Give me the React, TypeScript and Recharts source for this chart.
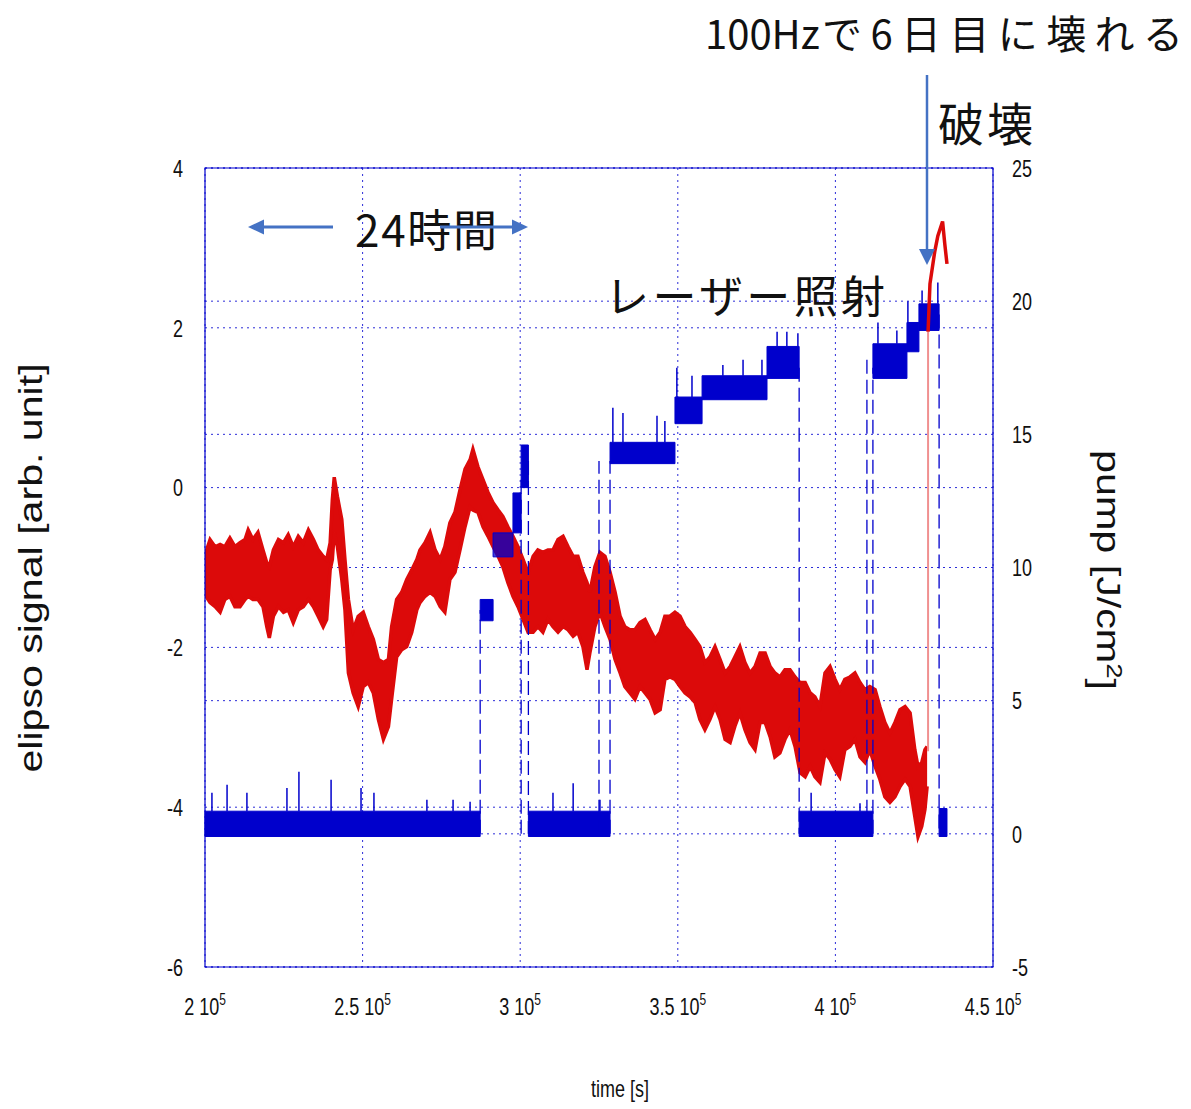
import React from 'react';
import {
  ComposedChart,
  Area,
  Line,
  XAxis,
  YAxis,
  CartesianGrid,
  ReferenceArea,
  ReferenceLine,
} from 'recharts';

const W = 1191;
const H = 1109;

// elipso signal (left axis) - noisy band, read as lower / upper envelope
const sigTime = [
  200000, 201600, 203200, 204800, 206300, 207900, 209500, 211100, 212700, 213700,
  215200, 216800, 218400, 219600, 220400, 221700, 223300, 224900, 226400, 228000,
  229600, 231200, 232800, 234400, 235900, 237500, 238600, 239700, 240400, 241000,
  242000, 243400, 244400, 245500, 247000, 248600, 250200, 251800, 253400, 255000,
  256600, 258200, 259200, 260800, 262400, 264000, 265600, 267200,
  268200, 269800, 271400, 273000, 274600, 276100, 277700, 279300, 280900, 282500,
  284100, 285000, 286600, 288200, 289800, 291400, 293000, 294500, 296100, 297700,
  299300, 300900, 302500, 304100, 305600, 307200, 308800, 310400, 312000, 313600,
  315200, 316800, 318300, 319900, 321200, 322100, 323700, 325300, 326900, 328500,
  330100, 331700, 333200, 334800, 336400,
  338000, 339600, 341200, 342800, 344400, 345900, 347500, 349100, 350700, 352300,
  353900, 355500, 357000, 358600, 360200, 361800, 363400, 365000, 366600, 368100,
  369700, 371300, 372900, 374500, 376100, 377700, 379300, 380800, 382400, 384000,
  385600, 387200, 388800, 390400, 392000, 393500, 395100, 396700, 398300, 399900,
  401400, 403000, 404600, 406200, 407800, 409400, 410900, 412600, 414100, 415700,
  417300, 418900, 420500, 422100, 423700, 425200, 426200, 427400, 428400, 429100,
];
const sigHigh = [
  -0.84, -0.65, -0.74, -0.71, -0.74, -0.63, -0.74, -0.69, -0.65, -0.53,
  -0.65, -0.56, -0.78, -0.94, -0.99, -0.78, -0.65, -0.69, -0.59, -0.74,
  -0.61, -0.69, -0.53, -0.65, -0.78, -0.86, -0.9, -0.69, -0.15, 0.13,
  -0.11, -0.4, -0.9, -1.4, -1.78, -1.61, -1.56, -1.74, -1.9, -2.15,
  -2.19, -2.15, -1.74, -1.4, -1.31, -1.15, -1.03, -0.9,
  -0.78, -0.69, -0.56, -0.78, -0.9, -0.74, -0.44, -0.31, -0.03, 0.23,
  0.35, 0.48, 0.26, 0.1, -0.06, -0.19, -0.28, -0.36, -0.49, -0.61,
  -0.74, -0.9, -1.06, -0.86, -0.78, -0.81, -0.78, -0.78, -0.65, -0.61,
  -0.74, -0.86, -0.86, -1.06, -1.19, -1.31, -0.99, -0.81, -0.86, -1.06,
  -1.31, -1.61, -1.74, -1.78, -1.78,
  -1.69, -1.65, -1.78, -1.9, -1.81, -1.61, -1.61, -1.56, -1.61, -1.74,
  -1.81, -1.9, -1.99, -2.19, -2.12, -1.99, -2.15, -2.32, -2.24, -2.12,
  -1.99, -2.19, -2.32, -2.24, -2.07, -2.07, -2.24, -2.32, -2.37, -2.28,
  -2.28, -2.37, -2.44, -2.44, -2.57, -2.62, -2.74, -2.32, -2.24, -2.4,
  -2.53, -2.4, -2.37, -2.32, -2.44, -2.53, -2.49, -2.53, -2.74, -2.94,
  -3.07, -2.94, -2.78, -2.74, -2.82, -3.28, -3.49, -3.44, -3.28, -3.24,
];
const sigLow = [
  -1.34, -1.44, -1.49, -1.56, -1.4, -1.36, -1.49, -1.49, -1.4, -1.36,
  -1.4, -1.4, -1.49, -1.74, -1.88, -1.61, -1.49, -1.56, -1.53, -1.69,
  -1.53, -1.49, -1.4, -1.49, -1.61, -1.74, -1.65, -1.03, -0.9, -0.56,
  -0.74, -1.15, -1.53, -2.32, -2.57, -2.74, -2.49, -2.44, -2.57, -2.9,
  -3.15, -2.99, -2.65, -2.12, -2.03, -1.99, -1.81, -1.53,
  -1.44, -1.36, -1.31, -1.36, -1.49, -1.56, -1.15, -1.06, -0.78, -0.49,
  -0.24, -0.28, -0.31, -0.49, -0.61, -0.74, -0.86, -0.99, -1.19, -1.36,
  -1.49, -1.65, -1.81, -1.81, -1.74, -1.81, -1.65, -1.74, -1.81, -1.74,
  -1.78, -1.86, -1.81, -1.99, -2.28, -2.07, -1.74, -1.56, -1.74, -1.9,
  -2.15, -2.32, -2.49, -2.57, -2.65,
  -2.49, -2.57, -2.65, -2.82, -2.78, -2.4, -2.37, -2.4, -2.49, -2.57,
  -2.62, -2.69, -2.9, -3.03, -2.9, -2.74, -2.9, -3.15, -3.19, -2.99,
  -2.82, -3.03, -3.19, -3.28, -2.94, -2.94, -3.12, -3.37, -3.32, -3.15,
  -3.03, -3.24, -3.57, -3.62, -3.49, -3.62, -3.69, -3.32, -3.4, -3.53,
  -3.62, -3.28, -3.24, -3.15, -3.37, -3.44, -3.28, -3.49, -3.65, -3.87,
  -3.94, -3.87, -3.74, -3.65, -3.74, -4.12, -4.37, -4.24, -4.03, -3.74,
];

// jump at the breakdown, then the thin trace on top
const jumpTime = [429400, 429400];
const jumpValue = [-3.3, 1.95];
const tailTime = [429400, 430000, 431500, 432500, 434000, 434700, 435400];
const tailValue = [1.95, 2.55, 2.95, 3.15, 3.33, 3.05, 2.8];

// pump plateaus (right axis)
const pumpStart = [200000, 287300, 291400, 297700, 300300, 302600, 328500, 349100, 357700, 378300, 388500, 411900, 422700, 426500, 432900];
const pumpEnd = [287300, 291400, 297700, 300300, 302600, 328500, 349100, 357700, 378300, 388500, 411900, 422700, 426500, 432900, 435400];
const pumpLow = [-0.1, 8.0, 10.4, 11.3, 13.0, -0.1, 13.9, 15.4, 16.3, 17.1, -0.1, 17.1, 18.1, 18.9, -0.1];
const pumpHigh = [0.85, 8.8, 11.3, 12.8, 14.6, 0.85, 14.7, 16.4, 17.2, 18.3, 0.85, 18.4, 19.2, 19.9, 0.95];

// largest spikes above the plateaus
const spikeTime = [
  202200, 207000, 213300, 226000, 229800, 240000, 249500, 253600, 270400, 278700, 284100,
  310400, 316800, 325300, 329400, 332600, 343400, 345900, 349700, 354500, 364300, 370700,
  376700, 381500, 384600, 388100, 392300, 407800, 413500, 419500, 423000, 427500, 432500,
];
const spikeTop = [
  1.54, 1.84, 1.54, 1.72, 2.33, 2.03, 1.72, 1.54, 1.28, 1.28, 1.2,
  1.54, 1.9, 1.28, 16.0, 15.8, 15.7, 15.5, 17.5, 17.2, 17.6, 17.8,
  17.8, 18.85, 18.85, 18.8, 1.54, 1.15, 19.2, 18.9, 20.0, 20.4, 20.7,
];

// sparse samples at the switching times (dashed verticals)
const stepTime = [287300, 300300, 302600, 325000, 328500, 388500, 410000, 411900, 432900];
const stepFrom = [0, 0, 14, 0, 0, 17.5, 0, 0, 19.5];
const stepTo = [8.4, 13.5, 0, 14, 14, 0, 18, 17.5, 0];

const xTicks = [200000, 250000, 300000, 350000, 400000, 450000];
const leftTicks = [-6, -4, -2, 0, 2, 4];
const rightTicks = [-5, 0, 5, 10, 15, 20, 25];

const BLUE = '#0000cc';
const RED = '#dc0a0a';
const GRID = '#2c2cd8';
const ARROW = '#4472c4';
const FONT = "'Liberation Sans', Arial, sans-serif";
const JP = "'Noto Sans CJK JP', sans-serif";

type Row = { t: number; sig?: number[]; jump?: number; tail?: number };

const rows: Row[] = [];
sigTime.forEach((t, i) => rows.push({ t, sig: [sigLow[i], sigHigh[i]] }));
jumpTime.forEach((t, i) => rows.push({ t, jump: jumpValue[i] }));
tailTime.forEach((t, i) => rows.push({ t, tail: tailValue[i] }));
rows.sort((a, b) => a.t - b.t);

const plateauTop = (t: number) => {
  const i = pumpStart.findIndex((s, k) => t >= s && t < pumpEnd[k]);
  return i < 0 ? 0 : pumpHigh[i];
};

const LeftTick = (p: any) => (
  <g transform={`translate(${p.x},${p.y}) scale(1,1.35)`}>
    <text textAnchor="end" dy="0.36em" fontSize={18} fontFamily={FONT} fill="#111">
      {p.payload.value}
    </text>
  </g>
);

const RightTick = (p: any) => (
  <g transform={`translate(${p.x},${p.y}) scale(1,1.35)`}>
    <text textAnchor="start" dy="0.36em" fontSize={18} fontFamily={FONT} fill="#111">
      {p.payload.value}
    </text>
  </g>
);

const XTick = (p: any) => (
  <g transform={`translate(${p.x},${p.y}) scale(1,1.35)`}>
    <text textAnchor="middle" fontSize={18} fontFamily={FONT} fill="#111">
      {`${p.payload.value / 100000} 10`}
      <tspan dy="-0.6em" fontSize={12}>5</tspan>
    </text>
  </g>
);

function Overlay() {
  return (
    <svg width={W} height={H} style={{ position: 'absolute', left: 0, top: 0, pointerEvents: 'none' }}>
      {/* axis titles */}
      <text transform="translate(42,568) rotate(-90) scale(1.21,1)" textAnchor="middle" fontSize={34} fontFamily={FONT} fill="#111">
        elipso signal [arb. unit]
      </text>
      <text transform="translate(1097,570) rotate(90) scale(1.25,1)" textAnchor="middle" fontSize={33} fontFamily={FONT} fill="#111">
        pump [J/cm<tspan dy="-0.45em" fontSize={22}>2</tspan><tspan dy="0.45em">]</tspan>
      </text>
      <text transform="translate(620,1097) scale(1,1.3)" textAnchor="middle" fontSize={18} fontFamily={FONT} fill="#111">
        time [s]
      </text>

      {/* notes */}
      <text x={705} y={49} fontSize={40} fontFamily={JP} fill="#111">
        100Hz
      </text>
      <text x={822} y={49} fontSize={40} fontFamily={JP} fill="#111" textLength={361} lengthAdjust="spacing">
        で6日目に壊れる
      </text>
      <text x={938} y={141} fontSize={46} fontFamily={JP} fill="#111" textLength={95} lengthAdjust="spacing">
        破壊
      </text>
      <text x={355} y={247} fontSize={44} fontFamily={JP} fill="#111" textLength={142} lengthAdjust="spacing">
        24時間
      </text>
      <text x={605} y={313} fontSize={44} fontFamily={JP} fill="#111" textLength={280} lengthAdjust="spacing">
        レーザー照射
      </text>

      {/* arrows */}
      <g stroke={ARROW} fill={ARROW}>
        <line x1={262} y1={227} x2={333} y2={227} strokeWidth={3} />
        <polygon points="248,227 264,219.5 264,234.5" stroke="none" />
        <line x1={440} y1={227} x2={514} y2={227} strokeWidth={3} />
        <polygon points="528,227 512,219.5 512,234.5" stroke="none" />
        <line x1={927} y1={75} x2={927} y2={251} strokeWidth={2.5} />
        <polygon points="927,265 919,249 935,249" stroke="none" />
      </g>
    </svg>
  );
}

export default function App() {
  return (
    <div style={{ position: 'absolute', left: 0, top: 0, width: W, height: H, background: '#fff' }}>
      <ComposedChart width={W} height={H} data={rows} margin={{ top: 168, right: 138, bottom: 82, left: 145 }}>
        <CartesianGrid yAxisId="left" stroke={GRID} strokeDasharray="2 4" />
        <CartesianGrid yAxisId="right" vertical={false} stroke={GRID} strokeDasharray="2 4" />
        <XAxis
          type="number"
          dataKey="t"
          domain={[200000, 450000]}
          ticks={xTicks}
          allowDataOverflow
          axisLine={false}
          tickLine={false}
          tickSize={0}
          tickMargin={48}
          height={60}
          tick={XTick}
        />
        <YAxis
          yAxisId="left"
          type="number"
          domain={[-6, 4]}
          ticks={leftTicks}
          allowDataOverflow
          axisLine={false}
          tickLine={false}
          tickSize={0}
          tickMargin={22}
          width={60}
          tick={LeftTick}
        />
        <YAxis
          yAxisId="right"
          orientation="right"
          type="number"
          domain={[-5, 25]}
          ticks={rightTicks}
          allowDataOverflow
          axisLine={false}
          tickLine={false}
          tickSize={0}
          tickMargin={19}
          width={60}
          tick={RightTick}
        />

        <Area
          yAxisId="left"
          dataKey="sig"
          type="linear"
          stroke={RED}
          strokeWidth={3.5}
          strokeLinejoin="miter"
          fill={RED}
          fillOpacity={1}
          dot={false}
          activeDot={false}
          isAnimationActive={false}
        />

        {pumpStart.map((s, i) => (
          <ReferenceArea
            key={`p${i}`}
            yAxisId="right"
            x1={s}
            x2={pumpEnd[i]}
            y1={pumpLow[i]}
            y2={pumpHigh[i]}
            fill={BLUE}
            fillOpacity={i === 2 ? 0.75 : 1}
            stroke={BLUE}
            strokeWidth={1}
            ifOverflow="visible"
          />
        ))}
        {spikeTime.map((t, i) => (
          <ReferenceLine
            key={`k${i}`}
            yAxisId="right"
            segment={[{ x: t, y: plateauTop(t) }, { x: t, y: spikeTop[i] }]}
            stroke={BLUE}
            strokeWidth={1.5}
            ifOverflow="visible"
          />
        ))}
        {stepTime.map((t, i) => (
          <ReferenceLine
            key={`s${i}`}
            yAxisId="right"
            segment={[{ x: t, y: stepFrom[i] }, { x: t, y: stepTo[i] }]}
            stroke={BLUE}
            strokeWidth={1.3}
            strokeDasharray="14 6"
            ifOverflow="visible"
          />
        ))}

        <Line
          yAxisId="left"
          dataKey="jump"
          stroke="#f09090"
          strokeWidth={2}
          dot={false}
          activeDot={false}
          connectNulls
          isAnimationActive={false}
        />
        <Line
          yAxisId="left"
          dataKey="tail"
          stroke={RED}
          strokeWidth={3.5}
          dot={false}
          activeDot={false}
          connectNulls
          isAnimationActive={false}
        />

        <ReferenceArea
          yAxisId="left"
          x1={200000}
          x2={450000}
          y1={-6}
          y2={4}
          fill="none"
          stroke={BLUE}
          strokeWidth={1.2}
          ifOverflow="visible"
        />
      </ComposedChart>
      <Overlay />
    </div>
  );
}
